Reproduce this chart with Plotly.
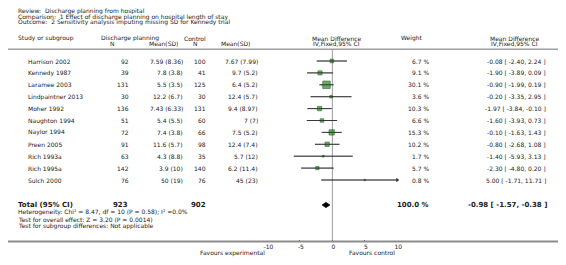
import plotly.graph_objects as go

# ---------------- data ----------------
studies = ["Harrison 2002", "Kennedy 1987", "Laramee 2003", "Lindpaintner 2013", "Moher 1992",
           "Naughton 1994", "Naylor 1994", "Preen 2005", "Rich 1993a", "Rich 1995a", "Sulch 2000"]
exp_n = [92, 39, 131, 30, 136, 51, 72, 91, 63, 142, 76]
exp_msd = ["7.59 (8.36)", "7.8 (3.8)", "5.5 (3.5)", "12.2 (6.7)", "7.43 (6.33)", "5.4 (5.5)",
           "7.4 (3.8)", "11.6 (5.7)", "4.3 (8.8)", "3.9 (10)", "50 (19)"]
ctl_n = [100, 41, 125, 30, 131, 60, 66, 98, 35, 140, 76]
ctl_msd = ["7.67 (7.99)", "9.7 (5.2)", "6.4 (5.2)", "12.4 (5.7)", "9.4 (8.97)", "7 (7)",
           "7.5 (5.2)", "12.4 (7.4)", "5.7 (12)", "6.2 (11.4)", "45 (23)"]
weights = [6.7, 9.1, 30.1, 3.6, 10.3, 6.6, 15.3, 10.2, 1.7, 5.7, 0.8]
md = [-0.08, -1.90, -0.90, -0.20, -1.97, -1.60, -0.10, -0.80, -1.40, -2.30, 5.00]
ci_lo = [-2.40, -3.89, -1.99, -3.35, -3.84, -3.93, -1.63, -2.68, -5.93, -4.80, -1.71]
ci_hi = [2.24, 0.09, 0.19, 2.95, -0.10, 0.73, 1.43, 1.08, 3.13, 0.20, 11.71]

total_exp_n = 923
total_ctl_n = 902
total_weight = 100.0
total_md = -0.98
total_lo = -1.57
total_hi = -0.38

tick_vals = [-10, -5, 0, 5, 10]
x_range = [-10, 10]

title_lines = ["Review:  Discharge planning from hospital",
               "Comparison:  1 Effect of discharge planning on hospital length of stay",
               "Outcome:  2 Sensitivity analysis imputing missing SD for Kennedy trial"]
footer_lines = ["Heterogeneity: Chi\u00b2 = 8.47, df = 10 (P = 0.58); I\u00b2 =0.0%",
                "Test for overall effect: Z = 3.20 (P = 0.0014)",
                "Test for subgroup differences: Not applicable"]

# ---------------- layout helpers ----------------
OFF = 8                      # the page body margin of the browser
W, H = 566 - OFF, 265 - OFF  # figure size (visible area)
ROW0, ROWH = 61.0, 11.9      # page-pixel y of first study row, row spacing
FONT = "DejaVu Sans"
TXT = "#1a1a1a"
HEAD_LINE = 49.3
AXIS_LINE = 241.5


def px(x):
    """page pixel x -> paper"""
    return (x - OFF) / W


def py(y):
    """page pixel y -> paper"""
    return 1 - (y - OFF) / H


TOTAL_ROW = (205 - ROW0) / ROWH

fig = go.Figure()
ann = []


def text(x, y, s, anchor="left", size=6, bold=False, yref="paper"):
    if bold:
        s = "<b>" + s + "</b>"
    ann.append(dict(x=px(x), y=(py(y) if yref == "paper" else y), xref="paper", yref=yref,
                    text=s, showarrow=False, xanchor=anchor, yanchor="middle",
                    font=dict(family=FONT, size=size, color=TXT), borderpad=0))


# titles
for k, t in enumerate(title_lines):
    text(13, 11 + 5.7 * k, t)

# headers
text(13, 38, "Study or subgroup")
text(128, 38, "Discharge planning", anchor="center")
text(110, 43.5, "N", anchor="center")
text(162, 43.5, "Mean(SD)", anchor="center")
text(194, 38, "Control", anchor="center")
text(195, 43.5, "N", anchor="center")
text(235, 43.5, "Mean(SD)", anchor="center")
text(338, 38, "Mean Difference", anchor="center")
text(338, 43.5, "IV,Fixed,95% CI", anchor="center")
text(415, 38, "Weight", anchor="center")
text(519, 38, "Mean Difference", anchor="center")
text(519, 43.5, "IV,Fixed,95% CI", anchor="center")

# study rows (y axis is in row units)
for i, s in enumerate(studies):
    text(23, i, s, yref="y")
    text(127.7, i, str(exp_n[i]), anchor="right", yref="y")
    text(182.7, i, exp_msd[i], anchor="right", yref="y")
    text(206.7, i, str(ctl_n[i]), anchor="right", yref="y")
    text(259, i, ctl_msd[i], anchor="right", yref="y")
    text(433.3, i, f"{weights[i]:.1f} %", anchor="right", yref="y")
    text(551.7, i, f"{md[i]:.2f} [ {ci_lo[i]:.2f}, {ci_hi[i]:.2f} ]", anchor="right", yref="y")

# total row
text(13, TOTAL_ROW, "Total (95% CI)", size=7, bold=True, yref="y")
text(126.5, TOTAL_ROW, str(total_exp_n), anchor="right", size=7, bold=True, yref="y")
text(206, TOTAL_ROW, str(total_ctl_n), anchor="right", size=7, bold=True, yref="y")
text(433.3, TOTAL_ROW, f"{total_weight:.1f} %", anchor="right", size=7, bold=True, yref="y")
text(552.7, TOTAL_ROW, f"{total_md:.2f} [ {total_lo:.2f}, {total_hi:.2f} ]", anchor="right",
     size=7, bold=True, yref="y")

for k, t in enumerate(footer_lines):
    text(13.3, 212.3 + 6.9 * k, t)

text(266, 252.5, "Favours experimental", anchor="right")
text(350, 252.5, "Favours control", anchor="left")

# ---------------- marks ----------------
rows = list(range(len(studies)))
for i in rows:
    lo = max(ci_lo[i], x_range[0])
    hi = min(ci_hi[i], x_range[1])
    fig.add_trace(go.Scatter(x=[lo, hi], y=[i, i], mode="lines",
                             line=dict(color="#333333", width=0.8), hoverinfo="skip",
                             showlegend=False))
    if ci_hi[i] > x_range[1]:
        fig.add_trace(go.Scatter(x=[x_range[1]], y=[i], mode="markers",
                                 marker=dict(symbol="triangle-right", size=4, color="#333333"),
                                 cliponaxis=False, showlegend=False, hoverinfo="skip"))

# squares, area proportional to weight
sizes = [max(7.5 * (w / max(weights)) ** 0.5, 1.5) for w in weights]
fig.add_trace(go.Scatter(x=md, y=rows, mode="markers",
                         marker=dict(symbol="square", size=sizes, color="#1f8f1f",
                                     line=dict(color="#063806", width=0.7)),
                         showlegend=False, hoverinfo="skip"))
for i in rows:
    lo = max(ci_lo[i], x_range[0])
    hi = min(ci_hi[i], x_range[1])
    fig.add_trace(go.Scatter(x=[lo, hi], y=[i, i], mode="lines",
                             line=dict(color="#222222", width=0.6), hoverinfo="skip",
                             showlegend=False))

# diamond
dh = 0.22
fig.add_trace(go.Scatter(x=[total_lo, total_md, total_hi, total_md, total_lo],
                         y=[TOTAL_ROW, TOTAL_ROW - dh, TOTAL_ROW, TOTAL_ROW + dh, TOTAL_ROW],
                         mode="lines", fill="toself", fillcolor="#000000",
                         line=dict(color="#000000", width=0.8), showlegend=False, hoverinfo="skip"))

shapes = [
    dict(type="line", xref="paper", yref="paper", x0=px(0), x1=1, y0=py(HEAD_LINE),
         y1=py(HEAD_LINE), line=dict(color="#a0a0a0", width=1.5)),
    dict(type="line", xref="paper", yref="paper", x0=px(0), x1=1, y0=py(AXIS_LINE),
         y1=py(AXIS_LINE), line=dict(color="#8c8c8c", width=2)),
    dict(type="line", xref="x", yref="paper", x0=0, x1=0, y0=py(HEAD_LINE), y1=py(AXIS_LINE),
         line=dict(color="#9a9a9a", width=1), layer="below"),
]

fig.update_layout(
    width=W, height=H, margin=dict(l=0, r=0, t=0, b=0),
    paper_bgcolor="white", plot_bgcolor="rgba(0,0,0,0)",
    annotations=ann, shapes=shapes, showlegend=False,
    xaxis=dict(domain=[px(267.6), px(399.6)], range=x_range, tickvals=tick_vals,
               ticktext=[str(v) for v in tick_vals], showgrid=False, zeroline=False,
               showline=False, ticks="inside", ticklen=2, tickcolor="#555555",
               tickfont=dict(family=FONT, size=6, color=TXT), anchor="free",
               position=py(AXIS_LINE), fixedrange=True, ticklabelshift=1,
               ticklabelstandoff=0),
    yaxis=dict(domain=[0, 1], range=[(H + OFF - ROW0) / ROWH, (OFF - ROW0) / ROWH],
               visible=False, showgrid=False, zeroline=False, fixedrange=True),
)

fig.write_html("out.html")
